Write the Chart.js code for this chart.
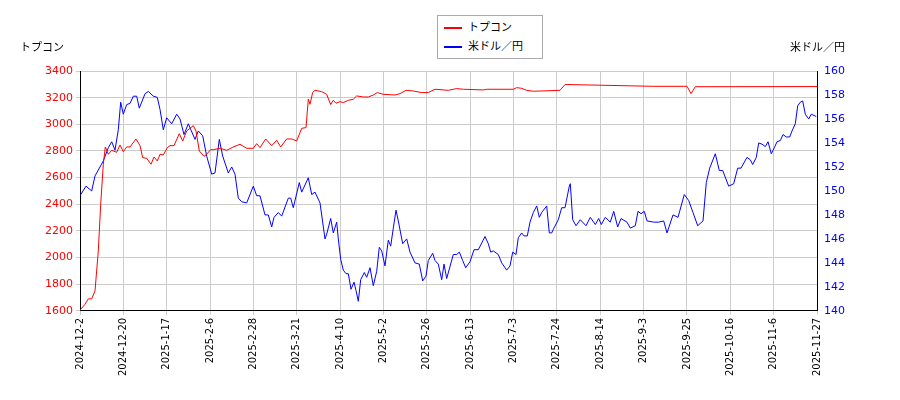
<!DOCTYPE html>
<html><head><meta charset="utf-8">
<script src="https://cdn.jsdelivr.net/npm/chart.js@4"></script>
<style>
body{margin:0;width:900px;height:400px;background:#fff;font-family:"DejaVu Sans","Noto Sans CJK JP",sans-serif;position:relative}
#c{position:absolute;left:0;top:0}
.t{position:absolute;font-size:11px;color:#000}
#lg{position:absolute;left:437px;top:15px;width:104px;height:42px;border:1px solid #aaa;font-size:11px;background:#fff}
#lg div{position:relative;height:19px;line-height:19px;padding-left:30px}
#lg span{position:absolute;left:6px;top:9px;width:18px;height:2px}
</style></head><body>
<canvas id="c" width="900" height="400"></canvas>
<div class="t" style="left:20px;top:38px">トプコン</div>
<div class="t" style="left:790px;top:38px">米ドル／円</div>
<div id="lg"><div style="margin-top:2px"><span style="background:#f00"></span>トプコン</div><div><span style="background:#00f"></span>米ドル／円</div></div>
<script>
const tickLabels=["2024-12-2","2024-12-20","2025-1-17","2025-2-6","2025-2-28","2025-3-21","2025-4-10","2025-5-2","2025-5-26","2025-6-13","2025-7-3","2025-7-24","2025-8-14","2025-9-3","2025-9-25","2025-10-16","2025-11-6","2025-11-27"];
const redPos=[0,5,8.3,11.7,15,18.3,20.7,23.3,25.3,28.3,31.7,36.7,40,43.3,46.7,50,56,60,62.7,66.7,71,74,77.3,80,83.3,87.3,90,94,99.3,102.7,106.7,113.3,116,119.3,124,126,130.7,133.3,140,146.7,153.3,160,166.7,173.3,176.7,180,185.7,191.7,196.7,200.7,206.7,211.7,216.7,221.7,226,228.3,230,232.7,235,241.7,246.7,250,250.7,253.3,256,260,263.3,268.3,273.3,276.7,283.3,288.3,293.3,297.3,303.3,315,320,326,333.3,341.7,348.3,355,368.3,376.7,383.3,403.3,406.7,433.3,436.7,441.7,446.7,453.3,480,485,490,573.7,607,611,615.3,737];
const redVals=[1605,1650,1690,1690,1750,2050,2400,2700,2830,2775,2805,2790,2845,2795,2830,2830,2890,2840,2750,2745,2700,2755,2725,2775,2770,2825,2840,2840,2930,2875,2950,2990,2950,2800,2760,2770,2810,2810,2820,2805,2830,2850,2820,2820,2855,2825,2890,2840,2880,2830,2890,2890,2875,2970,2975,3190,3150,3240,3255,3245,3225,3160,3150,3180,3158,3170,3163,3180,3188,3213,3205,3205,3220,3238,3225,3220,3230,3255,3250,3238,3238,3263,3255,3268,3263,3258,3263,3263,3275,3270,3255,3248,3255,3298,3298,3285,3285,3230,3282,3283];
const bluePos=[0,6,11.7,15,23.3,28.3,31.7,35,38.3,40.7,43.3,46.7,50,53.3,56.7,59.3,65,68.3,73.3,77.3,80,83.3,86.7,91.7,96.7,100,104,108.3,115,118.3,122.7,126.7,131.7,135,139.3,142.7,148.3,151.7,155,158.3,161.7,166.7,173.3,176.7,180,185,188.3,191.7,194,198.3,201.7,208.3,210.7,213.3,219.3,221.7,228.3,231.7,235,240,245,246.7,250.7,253.3,256.7,258.3,260.7,263.3,266,268.3,271,274,276,278.3,280.7,284.3,286.7,290,293.3,296.7,299.3,301.7,305,308.3,310.7,313.3,316,318.3,322.7,326.7,330,335,339.3,342.7,346,348.3,352.7,355,358.3,361.7,364,366.7,373.3,376.7,379.3,382.7,385.7,390,394,398.3,405,408.3,410.7,413.3,418.3,421.7,426.7,430,432.7,436,438.3,441.7,444,447.3,450,453.3,456.7,459.3,461.7,466.7,469.3,471.7,473.3,478.3,481.7,485,489.3,490.3,492.7,496,500.3,506,510.3,515.3,518.7,521.3,525.3,530.3,533.7,537.7,541,547,550.3,555.3,558,561,564.3,567,573.7,578.7,583.7,587,593,598,604.3,608.7,613,617.7,623,626.3,629.7,635.3,639.3,642.7,648.7,653.7,657.7,661,667,670.3,672.7,676.3,678.7,682,685.3,688,691.3,694.3,697,700.3,703,706.3,709.7,712,715.3,717.7,720.3,722.7,725.3,728.7,731.3,736.3];
const blueVals=[149.6,150.4,150,151.25,152.5,153.6,154.1,153.4,155.1,157.4,156.4,157.2,157.3,157.9,157.9,156.9,158.1,158.3,157.9,157.8,156.8,155.1,156.1,155.6,156.4,156,154.7,155.6,154.3,155,154.6,152.9,151.4,151.5,154.3,152.9,151.5,152,151.4,149.4,149.1,149,150.4,149.6,149.6,148,148,147,147.8,148.2,147.9,149.4,149.4,148.6,150.7,149.9,151.1,149.7,149.9,149,146,146.4,147.7,146.5,147.4,146,144.3,143.4,143.1,143.1,141.8,142.4,141.7,140.8,142.6,143.2,142.8,143.6,142.1,143.3,145.3,145,143.75,145.9,145.4,146.9,148.4,147.5,145.6,146,144.9,144,143.9,142.5,142.9,144.2,144.8,144.2,143.9,142.6,143.9,142.7,144.7,144.7,144.9,144.2,143.6,144.1,145.1,145.1,146.2,145.6,144.9,145,144.7,144,143.4,143.75,144.9,144.7,146.1,146.5,146.25,146.25,147.4,148.2,148.75,147.8,148.2,148.75,146.5,146.5,146.8,147.6,148.6,148.6,150.4,150.6,147.6,147.1,147.6,147.1,147.8,147.2,147.7,147.2,147.8,147.4,148.3,147,147.7,147.4,146.9,147.1,148.3,148.1,148.3,147.5,147.4,147.4,147.5,146.5,148,147.8,149.7,149.2,148.2,147.1,147.5,150.7,151.9,153.1,151.7,151.7,150.4,150.6,151.9,151.9,152.8,152.6,152.2,152.8,154,153.9,153.7,154.1,153.1,153.6,154.1,154.2,154.7,154.5,154.5,155,155.6,157.1,157.4,157.5,156.4,156,156.4,156.2];
const red=redPos.map((p,i)=>({x:p,y:redVals[i]}));
const blue=bluePos.map((p,i)=>({x:p,y:blueVals[i]}));
const xmax=737,step=xmax/(tickLabels.length-1);
new Chart(document.getElementById('c'),{type:'line',
data:{datasets:[
{data:red,borderColor:'#f00',borderWidth:1,pointRadius:0,yAxisID:'y',tension:0},
{data:blue,borderColor:'#00f',borderWidth:1,pointRadius:0,yAxisID:'y1',tension:0}]},
options:{responsive:false,animation:false,
layout:{padding:{left:0,right:0,top:71,bottom:21}},
plugins:{legend:{display:false},tooltip:{enabled:false}},
scales:{
x:{type:'linear',min:0,max:xmax,
afterBuildTicks:s=>{s.ticks=tickLabels.map((l,i)=>({value:i*step}));},
ticks:{callback:(v,i)=>tickLabels[i],maxRotation:90,minRotation:90,color:'#000',font:{size:10,family:'DejaVu Sans'},autoSkip:false},
grid:{color:'#ccc',tickLength:4},border:{color:'#000'}},
y:{position:'left',min:1600,max:3400,ticks:{stepSize:200,callback:v=>v,color:'#f00',font:{size:11,family:'DejaVu Sans'}},grid:{color:'#ccc',tickLength:4},border:{color:'#000'},afterFit:s=>{s.width=80}},
y1:{position:'right',min:140,max:160,ticks:{stepSize:2,callback:v=>v,color:'#00f',font:{size:11,family:'DejaVu Sans'}},grid:{display:false,tickLength:4},border:{color:'#000'},afterFit:s=>{s.width=83}}
}}
});
</script></body></html>
